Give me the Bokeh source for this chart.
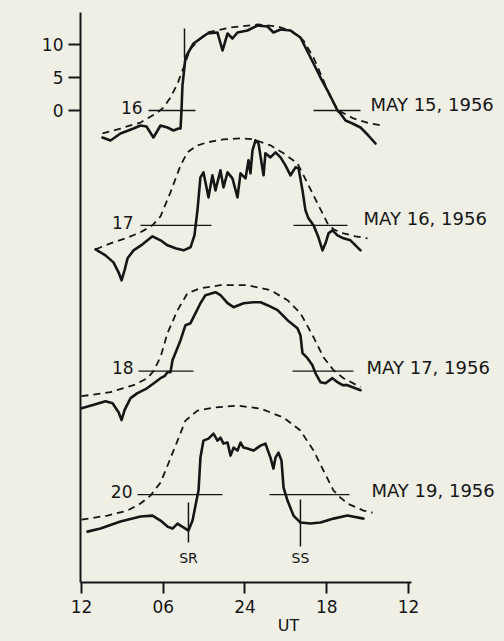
from bokeh.plotting import figure
from bokeh.models import Range1d, FixedTicker, Label
from bokeh.embed import file_html
from bokeh.resources import INLINE
from bokeh.core.properties import value

# ---------------- data (hours from left "12" tick, km relative to each day's baseline) -------------
DAY_LABELS = ["16", "17", "18", "20"]
DATES = ["MAY 15, 1956", "MAY 16, 1956", "MAY 17, 1956", "MAY 19, 1956"]
OFFSETS = [0.0, -17.4, -39.5, -58.2]          # km shift of each stacked record

H16 = [1.54, 2.13, 2.86, 3.82, 4.33, 4.77, 5.28, 5.80, 6.31, 6.75, 7.12, 7.27, 7.34, 7.41, 7.63, 8.22,
       9.25, 9.98, 10.35, 10.72, 11.08, 11.45, 12.18, 12.92, 13.65, 14.09, 14.61, 15.34, 16.07, 16.81,
       17.54, 18.06, 18.79, 19.01, 19.38, 19.89, 20.48, 21.06, 21.58]
K16 = [-4.09, -4.55, -3.48, -2.73, -2.27, -2.42, -4.09, -2.27, -2.58, -3.03, -2.73, -2.73, 0, 3.79, 8.03,
       10.15, 11.67, 11.82, 9.09, 11.67, 10.91, 11.82, 12.12, 12.88, 12.73, 11.82, 12.27, 12.12, 11.06,
       8.03, 5.00, 3.03, 0, -0.45, -1.52, -1.97, -2.58, -3.79, -5.00]
H16D = [1.54, 2.86, 4.33, 5.58, 6.02, 6.53, 7.05, 7.49, 8.00, 8.73, 9.25, 10.94, 12.92, 14.39, 15.34,
        16.29, 17.03, 17.76, 18.28, 18.86, 19.96, 21.21, 22.09]
K16D = [-3.48, -2.73, -1.82, -0.30, 0.45, 1.97, 4.09, 6.52, 9.39, 10.91, 11.82, 12.58, 13.03, 12.73,
        12.12, 10.61, 8.03, 4.55, 1.97, 0, -1.21, -1.97, -2.27]

H17 = [1.03, 1.76, 2.35, 2.72, 2.94, 3.16, 3.38, 3.82, 4.48, 5.21, 5.80, 6.31, 6.90, 7.49, 8.00, 8.29,
       8.51, 8.73, 8.95, 9.32, 9.61, 9.83, 10.20, 10.42, 10.72, 11.08, 11.45, 11.67, 12.04, 12.26, 12.40,
       12.55, 12.77, 12.99, 13.36, 13.50, 13.87, 14.24, 14.61, 14.97, 15.34, 15.71, 15.93, 16.22, 16.44,
       16.66, 17.03, 17.39, 17.69, 17.91, 18.13, 18.42, 18.79, 19.23, 19.74, 20.48]
K17 = [-3.64, -4.55, -5.61, -7.12, -8.33, -6.82, -5.0, -3.79, -2.88, -1.67, -2.27, -3.03, -3.48, -3.79,
       -3.33, -1.52, 2.27, 7.27, 8.03, 4.24, 7.58, 5.30, 8.33, 5.76, 8.03, 7.12, 4.24, 7.88, 7.12, 9.85,
       7.88, 11.36, 12.88, 12.42, 7.58, 10.91, 10.30, 11.06, 10.30, 9.09, 7.58, 8.79, 8.64, 5.30, 2.27,
       1.06, 0, -1.82, -3.79, -2.73, -1.21, -0.76, -1.52, -1.97, -2.27, -3.79]
H17D = [1.03, 2.13, 3.23, 4.33, 5.21, 5.80, 6.53, 7.27, 7.78, 8.51, 9.25, 10.42, 11.67, 12.62, 13.87,
        14.83, 15.85, 16.59, 17.32, 18.06, 18.50, 19.23, 20.11, 20.99]
K17D = [-3.64, -2.73, -1.97, -1.06, 0, 1.36, 5.0, 9.09, 11.06, 12.12, 12.58, 13.03, 13.18, 13.03, 12.12,
        10.91, 9.39, 6.36, 3.33, 0.30, -0.61, -1.21, -1.67, -1.97]

H18 = [0, 1.03, 1.76, 2.28, 2.72, 2.94, 3.16, 3.60, 4.11, 4.70, 5.21, 5.80, 6.09, 6.31, 6.53, 6.68, 7.27,
       7.63, 8.00, 8.37, 8.73, 9.10, 9.83, 10.20, 10.72, 11.16, 11.89, 12.62, 13.14, 13.65, 14.39, 15.12,
       15.85, 16.07, 16.22, 16.59, 16.95, 17.17, 17.54, 17.91, 18.42, 18.79, 19.16, 19.52, 20.48]
K18 = [-5.61, -5.0, -4.55, -4.85, -6.21, -7.42, -5.91, -4.09, -3.33, -2.73, -1.97, -1.06, -0.76, -0.15,
       -0.15, 1.67, 4.70, 6.97, 7.27, 8.79, 10.30, 11.52, 11.97, 11.52, 10.30, 9.70, 10.30, 10.45, 10.45,
       10.0, 9.24, 7.73, 6.52, 5.45, 2.73, 1.97, 0.91, -0.30, -1.67, -1.82, -1.06, -1.67, -2.12, -2.12, -2.88]
H18D = [0, 2.13, 3.82, 4.84, 5.28, 5.80, 6.31, 7.05, 7.78, 8.73, 10.20, 12.18, 13.87, 15.12, 16.07, 17.03,
        17.76, 18.50, 19.23, 20.48]
K18D = [-3.79, -3.18, -2.12, -1.06, 0, 2.12, 5.76, 9.24, 11.82, 12.58, 13.03, 13.03, 12.27, 10.76, 8.79,
        5.15, 2.12, 0.15, -1.06, -2.42]

H20 = [0.44, 1.39, 2.86, 4.33, 5.21, 5.80, 6.31, 6.68, 7.05, 7.27, 7.63, 7.85, 8.15, 8.44, 8.59, 8.73,
       8.95, 9.32, 9.69, 9.98, 10.20, 10.42, 10.72, 10.94, 11.16, 11.45, 11.67, 11.89, 12.18, 12.62,
       13.14, 13.50, 13.87, 14.09, 14.24, 14.46, 14.68, 14.83, 15.12, 15.56, 16.07, 16.81, 17.54, 18.50,
       19.52, 20.70]
K20 = [-5.61, -5.15, -4.09, -3.33, -3.18, -3.94, -4.85, -5.15, -4.39, -4.70, -5.15, -5.45, -3.94, -0.91,
       0.61, 5.61, 8.18, 8.48, 9.24, 8.18, 8.64, 7.73, 7.88, 5.91, 7.12, 6.67, 7.88, 7.12, 6.97, 6.67,
       7.42, 7.73, 5.61, 3.94, 5.61, 6.36, 5.15, 1.06, -0.91, -3.18, -4.24, -4.39, -4.24, -3.64, -3.18, -3.64]
H20D = [0, 1.91, 3.38, 4.33, 5.06, 5.80, 6.17, 7.05, 7.63, 8.51, 9.69, 11.45, 13.14, 14.83, 16.07, 17.03,
        17.76, 18.50, 19.01, 19.52, 20.70, 21.36]
K20D = [-3.79, -3.18, -2.42, -1.36, -0.15, 1.82, 3.64, 8.18, 11.21, 12.73, 13.18, 13.48, 13.03, 11.67,
        9.70, 6.67, 3.64, 0.61, -0.45, -1.36, -2.42, -2.73]

SOLID_H = [H16, H17, H18, H20]
SOLID_K = [K16, K17, K18, K20]
DASH_H = [H16D, H17D, H18D, H20D]
DASH_K = [K16D, K17D, K18D, K20D]

# reference-level bars (hours): left and right pieces
LEFT_BAR = [(4.92, 8.37), (4.33, 9.54), (4.18, 8.22), (4.11, 10.35)]
RIGHT_BAR = [(17.03, 20.48), (15.56, 19.52), (15.49, 19.96), (13.80, 19.67)]

X_TICKS = [0, 6, 12, 18, 24]
X_TICK_LABELS = ["12", "06", "24", "18", "12"]
Y_TICKS = [0, 5, 10]

# ---------------- styling ----------------
BG = "#efefe6"
INK = "#161616"
FONT = "DejaVu Sans"

p = figure(width=504, height=641, output_backend="svg", toolbar_location=None,
           x_range=Range1d(-0.073, 30.46), y_range=Range1d(-71.52, 14.85),
           min_border_left=80, min_border_right=8, min_border_top=12, min_border_bottom=59)
p.background_fill_color = BG
p.border_fill_color = BG
p.outline_line_color = None
p.grid.visible = False

for i in range(4):
    off = OFFSETS[i]
    p.line(DASH_H[i], [k + off for k in DASH_K[i]], line_color=INK, line_width=1.8,
           line_dash="7 5")
    p.line(SOLID_H[i], [k + off for k in SOLID_K[i]], line_color=INK, line_width=2.6,
           line_join="round", line_cap="round")
    p.segment(x0=[LEFT_BAR[i][0], RIGHT_BAR[i][0]], y0=[off, off],
              x1=[LEFT_BAR[i][1], RIGHT_BAR[i][1]], y1=[off, off],
              line_color=INK, line_width=1.3)

# day labels and dates
LABEL_X = [4.48, 3.82, 3.82, 3.74]
DATE_X = [21.21, 20.70, 20.92, 21.28]
DATE_DY = [0.98, 1.06, 0.53, 0.61]
p.text(x=LABEL_X, y=[o + 0.5 for o in OFFSETS], text=DAY_LABELS, text_font=value(FONT),
       text_font_size="17px", text_align="right", text_baseline="middle", text_color=INK)
p.text(x=DATE_X, y=[o + d for o, d in zip(OFFSETS, DATE_DY)], text=DATES, text_font=value(FONT),
       text_font_size="18px", text_align="left", text_baseline="middle", text_color=INK)

# sunrise / sunset markers
p.segment(x0=[7.56, 7.85, 16.07], y0=[OFFSETS[0] + 8.03, OFFSETS[3] - 1.21, OFFSETS[3] - 0.76],
          x1=[7.56, 7.85, 16.07], y1=[OFFSETS[0] + 12.42, OFFSETS[3] - 7.27, OFFSETS[3] - 7.88],
          line_color=INK, line_width=1.5)
p.text(x=[7.85, 16.07], y=[OFFSETS[3] - 9.6, OFFSETS[3] - 9.6], text=["SR", "SS"],
       text_font=value(FONT), text_font_size="14px", text_align="center", text_baseline="middle",
       text_color=INK)

# axes
p.xaxis.ticker = FixedTicker(ticks=X_TICKS)
p.xaxis.major_label_overrides = {t: l for t, l in zip(X_TICKS, X_TICK_LABELS)}
p.xaxis.bounds = (-0.073, 24.25)
p.xaxis.axis_label = "UT"
p.xaxis.axis_label_text_font = FONT
p.xaxis.axis_label_text_font_size = "16px"
p.xaxis.axis_label_text_font_style = "normal"
p.xaxis.axis_label_text_color = INK
p.xaxis.axis_label_standoff = 0
p.yaxis.ticker = FixedTicker(ticks=Y_TICKS)
for ax in (p.xaxis, p.yaxis):
    ax.axis_line_color = INK
    ax.axis_line_width = 2
    ax.major_tick_line_color = INK
    ax.major_tick_line_width = 2
    ax.major_tick_in = 0
    ax.minor_tick_line_color = None
    ax.major_label_text_font = FONT
    ax.major_label_text_font_size = "17px"
    ax.major_label_text_color = INK
p.xaxis.major_tick_out = 11
p.xaxis.major_label_standoff = 6
p.yaxis.major_tick_out = 12
p.yaxis.major_label_standoff = 5

p.add_layout(Label(x=-3.0, y=5, text="km", text_font=FONT, text_font_size="18px",
                   text_align="right", text_baseline="middle", text_color=INK))

html = file_html(p, INLINE)
html = html.replace("</head>", "<style>body{background:%s;}</style></head>" % BG, 1)
open("out.html", "w").write(html)
